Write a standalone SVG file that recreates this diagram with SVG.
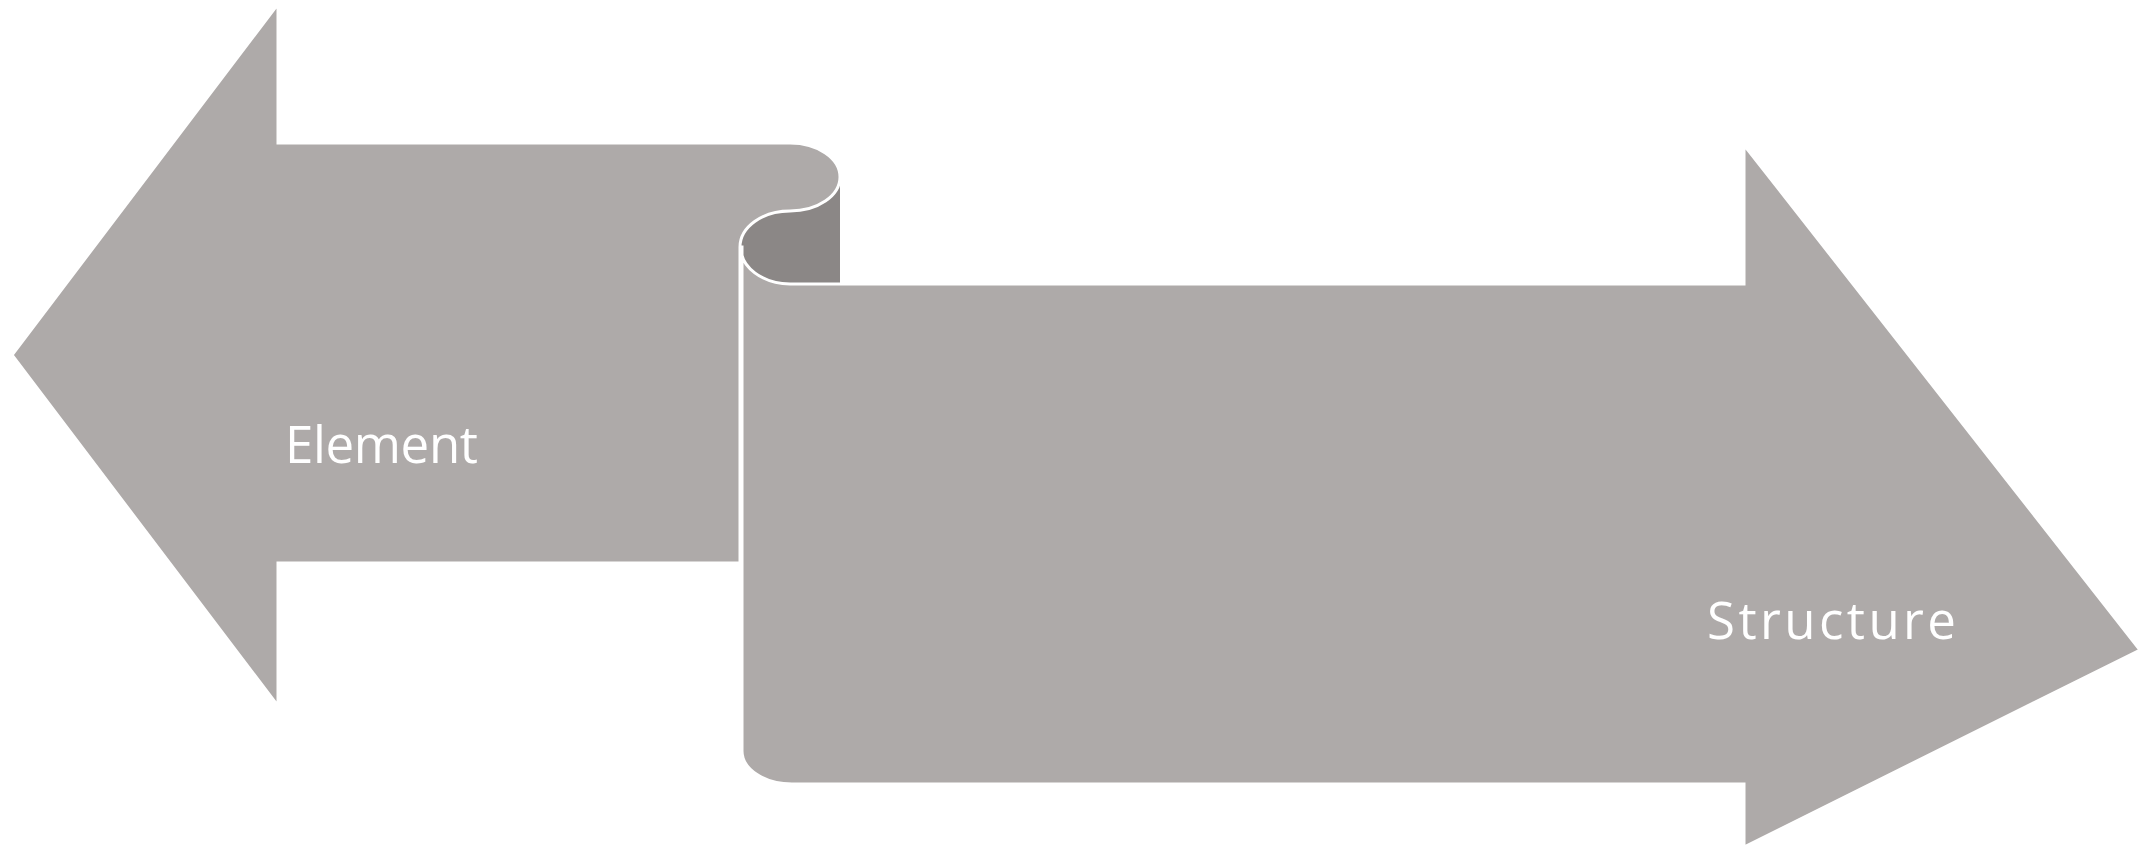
<svg xmlns="http://www.w3.org/2000/svg" width="2150" height="849" viewBox="0 0 2150 849">
<style>
.arrow{fill:#AEAAA9;stroke:#FFFFFF;stroke-width:3;stroke-linejoin:miter}
.back{fill:#8B8786;stroke:none}
.lbl{font-family:"Open Sans","Noto Sans","Liberation Sans",sans-serif;font-size:51px;fill:#FFFFFF}
</style>
<rect width="2150" height="849" fill="#FFFFFF"/>
<g id="scroll-back">
<path class="back" d="M840,177 L840,284 L790,284 A50,36 0 0 1 790,211 A50,34 0 0 0 840,177 Z"/>
</g>
<g id="element-arrow">
<path class="arrow" d="M12,355 L278,4 L278,143 L790,143 A50,34 0 0 1 790,211 A50,36 0 0 0 740,247 L740,563 L278,563 L278,706 Z"/>
<text class="lbl" x="285" y="463" textLength="193" lengthAdjust="spacing">Element</text>
</g>
<g id="structure-arrow">
<path class="arrow" d="M741,247 A50,36 0 0 0 790,284 L1744,284 L1744,145 L2140,650 L1744,847 L1744,784 L792,784 A50,33 0 0 1 742,751 L742,247 Z"/>
<text class="lbl" x="1707" y="639" textLength="249" lengthAdjust="spacing">Structure</text>
</g>
<g id="connectors"></g>
</svg>
